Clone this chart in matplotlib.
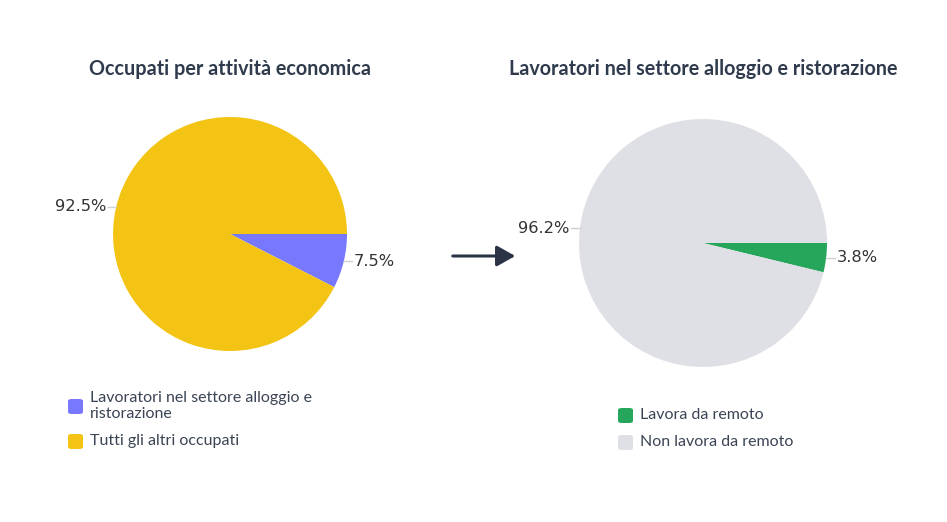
import numpy as np
import matplotlib
matplotlib.use("Agg")
import matplotlib.pyplot as plt
from matplotlib.patches import FancyBboxPatch, FancyArrowPatch

# ---- dati ----
left_title = "Occupati per attività economica"
left_labels = ["Lavoratori nel settore alloggio e\nristorazione", "Tutti gli altri occupati"]
left_values = [7.5, 92.5]
left_colors = ["#7878FF", "#F4C414"]

right_title = "Lavoratori nel settore alloggio e ristorazione"
right_labels = ["Lavora da remoto", "Non lavora da remoto"]
right_values = [3.8, 96.2]
right_colors = ["#26A65B", "#DFE0E5"]

W, H = 947, 522
TITLE_COLOR = "#2F3B4C"
TEXT_COLOR = "#3A4454"

fig = plt.figure(figsize=(W / 100, H / 100), dpi=100)
fig.patch.set_facecolor("white")


def px(x, y):
    """pixel (dall'alto) -> frazione di figura"""
    return x / W, 1 - y / H


def draw_pie(cx, cy, r, values, colors, title, labels, legend_x, legend_ys):
    ax = fig.add_axes([(cx - r) / W, (H - cy - r) / H, 2 * r / W, 2 * r / H])
    wedges, _ = ax.pie(values, colors=colors, startangle=0, counterclock=False,
                       radius=1, wedgeprops={"linewidth": 0})
    ax.set_aspect("auto")
    ax.set_xlim(-1, 1)
    ax.set_ylim(-1, 1)
    ax.axis("off")

    # etichette percentuali esterne con linea guida
    for w, v in zip(wedges, values):
        ang = np.deg2rad((w.theta1 + w.theta2) / 2)
        c, s = np.cos(ang), np.sin(ang)
        x0, y0 = c, s
        x1 = c + np.sign(c) * 0.07
        ax.plot([x0, x1], [y0, y0], color="#D0D0D0", lw=1, clip_on=False)
        ax.text(x1 + np.sign(c) * 0.015, y0, f"{v:.1f}%", ha="left" if c > 0 else "right",
                va="center", fontsize=11.7, color="#333333", family="DejaVu Sans",
                clip_on=False)

    tx, ty = px(cx, 69)
    fig.text(tx, ty, title, ha="center", va="center", fontsize=14.2, fontweight="bold",
             color=TITLE_COLOR, family=["Lato", "DejaVu Sans"])

    # legenda
    for col, lab, ly in zip(colors, labels, legend_ys):
        sx, sy = px(legend_x, ly + 8)
        box = FancyBboxPatch((sx, sy), 15 / W, 15 / H, boxstyle="round,pad=0,rounding_size=0.004",
                             transform=fig.transFigure, facecolor=col, edgecolor="none")
        fig.patches.append(box)
        lx, lyf = px(legend_x + 22, ly)
        fig.text(lx, lyf, lab, ha="left", va="center", fontsize=11.5, color=TEXT_COLOR,
                 family=["Lato", "DejaVu Sans"], linespacing=1.15)


draw_pie(230, 234, 117, left_values, left_colors, left_title, left_labels, 68, [406, 441])
draw_pie(703, 243, 124, right_values, right_colors, right_title, right_labels, 618, [415, 442])

# freccia tra i due grafici
fig.add_artist(FancyArrowPatch(
    px(450, 256), px(518, 256), transform=fig.transFigure,
    arrowstyle="-|>,head_length=0.8,head_width=0.45", mutation_scale=14,
    color="#2A3444", lw=2.2))

fig.savefig("out.png", dpi=100, facecolor="white")
